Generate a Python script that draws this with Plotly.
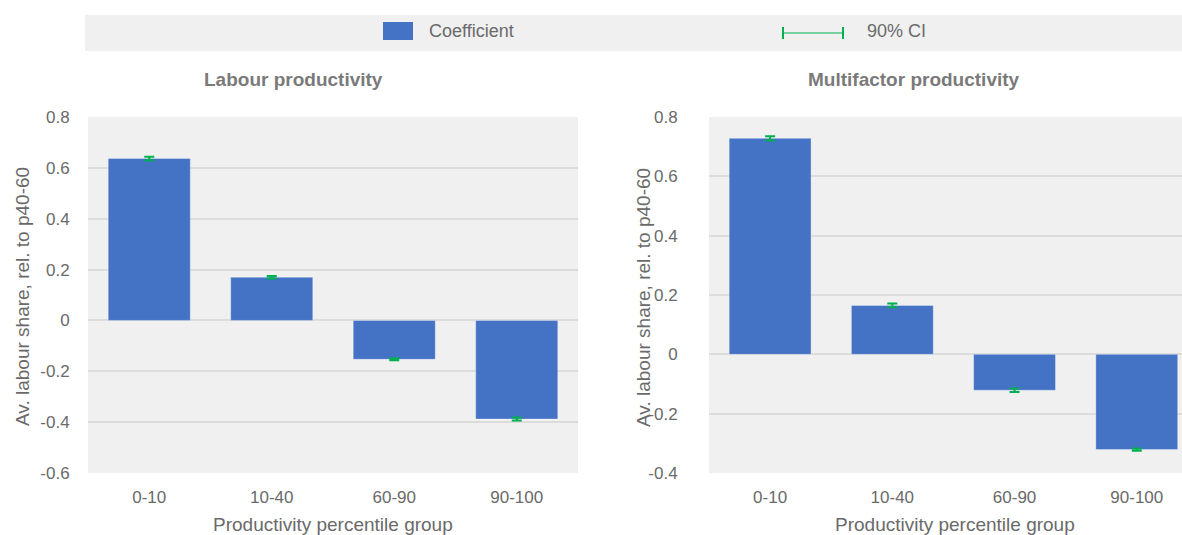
import plotly.graph_objects as go

categories = ["0-10", "10-40", "60-90", "90-100"]
labour_coef = [0.637, 0.170, -0.153, -0.388]
labour_ci = [0.007, 0.005, 0.004, 0.006]
mfp_coef = [0.728, 0.165, -0.121, -0.321]
mfp_ci = [0.007, 0.006, 0.006, 0.004]

left_ticks = [-0.6, -0.4, -0.2, 0, 0.2, 0.4, 0.6, 0.8]
left_ticktext = ["-0.6", "-0.4", "-0.2", "0", "0.2", "0.4", "0.6", "0.8"]
right_ticks = [-0.4, -0.2, 0, 0.2, 0.4, 0.6, 0.8]
right_ticktext = ["-0.4", "-0.2", "0", "0.2", "0.4", "0.6", "0.8"]

y_title = "Av. labour share, rel. to p40-60"
x_title = "Productivity percentile group"
panel_titles = ["Labour productivity", "Multifactor productivity"]
legend_labels = ["Coefficient", "90% CI"]

BAR = "#4472c4"
GREEN = "#00b050"
TXT = "#6a6a6a"
TITLE = "#7a7a7a"
BG = "#f0f0f0"
GRID = "#dcdcdc"
FONT = "Liberation Sans, Arial, sans-serif"
W, H = 1182, 535


def px(x):
    return x / W


def py(y):
    return 1 - y / H


fig = go.Figure()
for coef, ci, xa, ya in [(labour_coef, labour_ci, "x", "y"), (mfp_coef, mfp_ci, "x2", "y2")]:
    fig.add_trace(go.Bar(
        x=categories, y=coef, xaxis=xa, yaxis=ya,
        marker=dict(color=BAR, line=dict(color="rgba(255,255,255,0.35)", width=1)),
        error_y=dict(type="data", array=ci, symmetric=True, color=GREEN, thickness=2, width=5),
        showlegend=False,
    ))

axis_common = dict(
    tickfont=dict(size=17, color=TXT, family=FONT),
    showline=False, zeroline=False, automargin=False,
    ticks="outside", tickcolor="rgba(0,0,0,0)",
)
ydom = [py(473), py(117)]
fig.update_layout(
    width=W, height=H,
    margin=dict(l=0, r=0, t=0, b=0, pad=0),
    paper_bgcolor="white", plot_bgcolor=BG,
    font=dict(family=FONT, color=TXT),
    bargap=0.33,
    showlegend=False,
    xaxis=dict(domain=[px(88), px(578)], anchor="y", range=[-0.5, 3.5], showgrid=False,
               ticklen=9, **axis_common),
    yaxis=dict(domain=ydom, anchor="x", range=[-0.6, 0.8],
               tickvals=left_ticks, ticktext=left_ticktext, showgrid=True, gridcolor=GRID, gridwidth=2,
               ticklen=14, **axis_common),
    xaxis2=dict(domain=[px(709), 1.0], anchor="y2", range=[-0.5, 3.37], showgrid=False,
                ticklen=9, **axis_common),
    yaxis2=dict(domain=ydom, anchor="x2", range=[-0.4, 0.8],
                tickvals=right_ticks, ticktext=right_ticktext, showgrid=True, gridcolor=GRID, gridwidth=2,
                ticklen=27, **axis_common),
)

# Panel titles
for text, cx in zip(panel_titles, [293, 914]):
    fig.add_annotation(text=f"<b>{text}</b>", x=px(cx), y=py(79), xref="paper", yref="paper",
                       showarrow=False, font=dict(size=19, color=TITLE), xanchor="center", yanchor="middle")

# Axis titles
for cx in [333, 955]:
    fig.add_annotation(text=x_title, x=px(cx), y=py(524), xref="paper", yref="paper", showarrow=False,
                       font=dict(size=19, color=TXT), xanchor="center", yanchor="middle")
for cx in [22, 643]:
    fig.add_annotation(text=y_title, x=px(cx), y=py(297), xref="paper", yref="paper", showarrow=False,
                       textangle=-90, font=dict(size=19, color=TXT), xanchor="center", yanchor="middle")

# Legend band
fig.add_shape(type="rect", xref="paper", yref="paper", x0=px(85), x1=1.0, y0=py(51), y1=py(15),
              fillcolor=BG, line=dict(width=0), layer="below")
fig.add_shape(type="rect", xref="paper", yref="paper", x0=px(383), x1=px(413), y0=py(40), y1=py(22),
              fillcolor=BAR, line=dict(width=0))
fig.add_annotation(text=legend_labels[0], x=px(427), y=py(31), xref="paper", yref="paper", showarrow=False,
                   xanchor="left", yanchor="middle", font=dict(size=18, color=TXT))
fig.add_shape(type="line", xref="paper", yref="paper", x0=px(783), x1=px(843), y0=py(33), y1=py(33),
              line=dict(color=GREEN, width=1))
fig.add_shape(type="line", xref="paper", yref="paper", x0=px(783), x1=px(783), y0=py(27), y1=py(39),
              line=dict(color=GREEN, width=2))
fig.add_shape(type="line", xref="paper", yref="paper", x0=px(843), x1=px(843), y0=py(27), y1=py(39),
              line=dict(color=GREEN, width=2))
fig.add_annotation(text=legend_labels[1], x=px(865), y=py(31), xref="paper", yref="paper", showarrow=False,
                   xanchor="left", yanchor="middle", font=dict(size=18, color=TXT))

fig.write_html("out.html", config={"displayModeBar": False},
               post_script="document.body.style.margin='0';document.body.style.overflow='hidden';")
